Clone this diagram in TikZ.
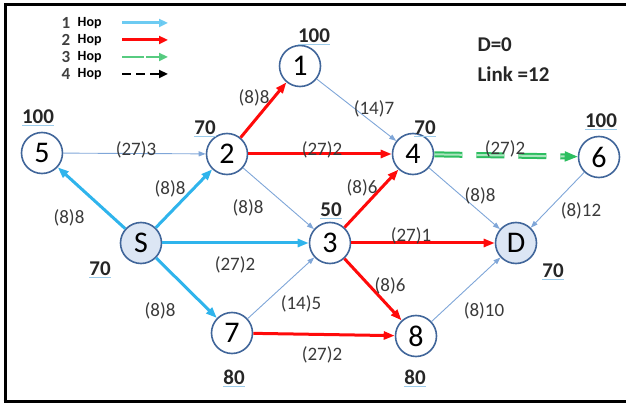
\documentclass[tikz,border=0pt]{standalone}
\usepackage{fontspec}
\setmainfont{Carlito}
\usetikzlibrary{arrows.meta}

\definecolor{ringblue}{HTML}{41669A}
\definecolor{fillblue}{HTML}{DCE6F4}
\definecolor{thinblue}{HTML}{7FA6D8}
\definecolor{hopone}{HTML}{2FB4EC}
\definecolor{hoptwo}{HTML}{FF0A0A}
\definecolor{hopthree}{HTML}{2DBE60}
\definecolor{labelgray}{HTML}{3A3A3A}
\definecolor{ulblue}{HTML}{9CCBEA}

% cost figure with a light underline
\newcommand\costfig[1]{\setbox0\hbox{#1}\rlap{\textcolor{ulblue}{\rule[-2.5pt]{\wd0}{0.9pt}}}\box0}

\tikzset{
  router/.style={circle, draw=ringblue, line width=1.6pt, fill=white,
    minimum size=41pt, inner sep=0pt, font=\fontsize{30}{30}\selectfont},
  endpoint/.style={router, fill=fillblue},
  cost/.style={font=\bfseries\fontsize{21}{21}\selectfont, text=black!85},
  wlabel/.style={font=\fontsize{19}{19}\selectfont, text=labelgray},
  plain/.style={draw=thinblue, line width=0.9pt,
    -{Triangle[length=7pt,width=5pt]}},
  hopa/.style={draw=hopone, line width=3pt,
    -{Triangle[length=11pt,width=8pt]}},
  hopb/.style={draw=hoptwo, line width=3pt,
    -{Triangle[length=11pt,width=8pt]}},
  hopc/.style={draw=hopthree, line width=2pt, double=hopthree!40,
    double distance=2pt, dash pattern=on 28pt off 14pt,
    -{Triangle[length=13pt,width=10pt,fill=hopthree]}},
  hopd/.style={draw=black, line width=2.5pt, dash pattern=on 9pt off 5pt,
    -{Triangle[length=9pt,width=8pt]}},
  hoptext/.style={font=\bfseries\fontsize{14}{14}\selectfont, anchor=west, inner sep=0.5pt},
  hopnum/.style={font=\bfseries\fontsize{17}{17}\selectfont, text=black!75, anchor=east, inner sep=0.5pt},
  summary/.style={font=\bfseries\fontsize{21}{21}\selectfont, anchor=west, text=black!85},
}

\begin{document}
\begin{tikzpicture}[x=1pt,y=-1pt]
\useasboundingbox (0,0) rectangle (626,403);

% frame
\draw[line width=3pt] (5,403) -- (5,4.7) -- (626,4.7);
\draw[line width=2.6pt] (3.5,401.7) -- (626,401.7);

% routers
\node[router]   (n1) at (300,66)  {1};
\node[router]   (n5) at (42,153)  {5};
\node[router]   (n2) at (227,154) {2};
\node[router]   (n4) at (413,154) {4};
\node[router]   (n6) at (599,157) {6};
\node[endpoint] (nS) at (141,243) {S};
\node[router]   (n3) at (330,243) {3};
\node[endpoint] (nD) at (516,243) {D};
\node[router]   (n7) at (232,333) {7};
\node[router]   (n8) at (416,336) {8};

% plain links
\draw[plain] (n5) -- (n2);
\draw[plain] (n1) -- (n4);
\draw[plain] (n2) -- (n3);
\draw[plain] (n7) -- (n3);
\draw[plain] (n4) -- (nD);
\draw[plain] (n6) -- (nD);
\draw[plain] (n8) -- (nD);

% one hop
\draw[hopa] (nS) -- (n5);
\draw[hopa] (nS) -- (n2);
\draw[hopa] (nS) -- (n3);
\draw[hopa] (nS) -- (n7);

% two hops
\draw[hopb] (n2) -- (n1);
\draw[hopb] (n2) -- (n4);
\draw[hopb] (n3) -- (n4);
\draw[hopb] (n3) -- (nD);
\draw[hopb] (n3) -- (n8);
\draw[hopb] (n7) -- (n8);

% three hops
\draw[hopc] (n4) -- (n6);

% link labels
\node[wlabel] (l21) at (254,98)  {(8)8};
\node[wlabel] (l14) at (374,109) {(14)7};
\node[wlabel] (l52) at (136,150) {(27)3};
\node[wlabel] (l24) at (322,150) {(27)2};
\node[wlabel] (l46) at (505,149) {(27)2};
\node[wlabel] (lS2) at (170,189) {(8)8};
\node[wlabel] (l34) at (362,188) {(8)6};
\node[wlabel] (l23) at (248,208) {(8)8};
\node[wlabel] (l4D) at (480,196) {(8)8};
\node[wlabel] (l6D) at (581,211) {(8)12};
\node[wlabel] (lS5) at (69,218)  {(8)8};
\node[wlabel] (l3D) at (411,236) {(27)1};
\node[wlabel] (lS3) at (235,265) {(27)2};
\node[wlabel] (l38) at (390,286) {(8)6};
\node[wlabel] (lS7) at (160,311) {(8)8};
\node[wlabel] (l73) at (301,304) {(14)5};
\node[wlabel] (l8D) at (484,311) {(8)10};
\node[wlabel] (l78) at (322,355) {(27)2};

% node costs
\node[cost] (c1) at (314,37)  {\costfig{100}};
\node[cost] (c5) at (38,118)  {\costfig{100}};
\node[cost] (c2) at (205,129) {\costfig{70}};
\node[cost] (c4) at (425,129) {\costfig{70}};
\node[cost] (c6) at (601,122) {\costfig{100}};
\node[cost] (c3) at (331,211) {\costfig{50}};
\node[cost] (cS) at (100,270) {\costfig{70}};
\node[cost] (cD) at (553,272) {\costfig{70}};
\node[cost] (c7) at (234,378) {\costfig{80}};
\node[cost] (c8) at (415,378) {\costfig{80}};

% summary
\node[summary] (sd) at (474,45) {D=0};
\node[summary] (sl) at (474,74) {Link =12};

% legend
\foreach \k/\y in {1/23, 2/40, 3/57, 4/74} {
  \node[hopnum] (hn\k) at (71,\y) {\k};
  \node[hoptext] (ht\k) at (77,\y) {Hop};
  \coordinate (hs\k) at (122,\y);
  \coordinate (he\k) at (168,\y);
}
\draw[draw=hopone!70, line width=3pt, -{Triangle[length=9pt,width=8pt,fill=hopone]}] (hs1) -- (he1);
\draw[draw=hoptwo, line width=3pt, -{Triangle[length=9pt,width=8pt]}] (hs2) -- (he2);
\draw[draw=hopthree!80, line width=2.5pt, dash pattern=on 22pt off 2pt, -{Triangle[length=9pt,width=8pt,fill=hopthree]}] (hs3) -- (he3);
\draw[hopd] (hs4) -- (he4);
\end{tikzpicture}
\end{document}
